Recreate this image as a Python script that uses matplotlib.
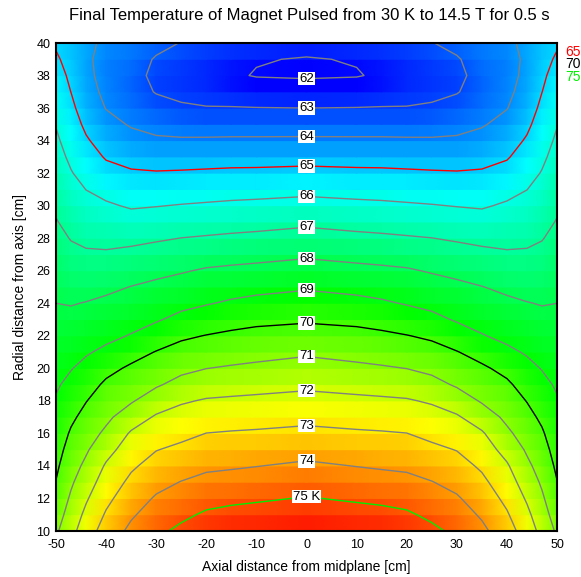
import numpy as np
import matplotlib
matplotlib.use("Agg")
import matplotlib.pyplot as plt
from matplotlib.colors import LinearSegmentedColormap

plt.rcParams["font.family"] = ["Liberation Sans", "DejaVu Sans"]
plt.rcParams["axes.unicode_minus"] = False

# radial nodes [cm] and axial nodes [cm] (half magnet, mirrored about midplane)
r_cm = np.arange(10, 41)
x_half = [0, 10, 15, 20, 25, 30, 35, 40, 44, 47, 50]

# final temperature [K] along r = 10..40 cm at each axial position
t_x0 = [75.95, 75.5, 75.05, 74.6, 74.15, 73.68, 73.22, 72.76, 72.3, 71.82,
        71.35, 70.87, 70.38, 69.89, 69.4, 68.9, 68.38, 67.87, 67.35, 66.83,
        66.3, 65.77, 65.24, 64.69, 64.14, 63.57, 63.0, 62.42, 61.9, 61.95, 62.3]
t_x10 = [75.8, 75.34, 74.89, 74.43, 73.98, 73.55, 73.11, 72.66, 72.19, 71.7,
         71.18, 70.71, 70.27, 69.79, 69.26, 68.74, 68.24, 67.73, 67.21, 66.7,
         66.2, 65.69, 65.18, 64.66, 64.13, 63.58, 63.02, 62.5, 61.95, 62.05, 62.45]
t_x15 = [75.72, 75.26, 74.81, 74.35, 73.9, 73.49, 73.07, 72.61, 72.14, 71.63,
         71.09, 70.62, 70.17, 69.66, 69.12, 68.64, 68.17, 67.67, 67.15, 66.65,
         66.15, 65.68, 65.16, 64.67, 64.13, 63.58, 63.04, 62.6, 62.12, 62.2, 62.6]
t_x20 = [75.56, 75.13, 74.69, 74.26, 73.83, 73.42, 73.01, 72.55, 72.08, 71.55,
         70.99, 70.51, 70.03, 69.48, 68.94, 68.52, 68.09, 67.6, 67.08, 66.59,
         66.1, 65.61, 65.13, 64.62, 64.11, 63.58, 63.04, 62.7, 62.45, 62.45, 62.75]
t_x25 = [75.2, 74.81, 74.42, 74.03, 73.61, 73.19, 72.77, 72.35, 71.9, 71.3,
         70.78, 70.33, 69.85, 69.25, 68.76, 68.35, 67.93, 67.47, 67.01, 66.53,
         66.04, 65.57, 65.09, 64.6, 64.1, 63.61, 63.11, 62.8, 62.65, 62.7, 62.97]
t_x30 = [74.8, 74.45, 74.1, 73.73, 73.35, 72.97, 72.54, 72.11, 71.5, 70.89,
         70.47, 70.04, 69.46, 68.91, 68.55, 68.19, 67.78, 67.34, 66.9, 66.43,
         65.97, 65.52, 65.06, 64.6, 64.13, 63.72, 63.33, 62.95, 62.8, 62.92, 63.25]
t_x35 = [74.22, 73.88, 73.55, 73.21, 72.86, 72.48, 72.11, 71.51, 70.91, 70.53,
         70.15, 69.64, 69.05, 68.69, 68.35, 68.02, 67.62, 67.21, 66.79, 66.35,
         65.91, 65.51, 65.1, 64.7, 64.3, 63.92, 63.6, 63.38, 63.3, 63.4, 63.55]
t_x40 = [73.42, 73.1, 72.77, 72.44, 72.11, 71.67, 71.18, 70.8, 70.48, 70.16,
         69.73, 69.18, 68.79, 68.48, 68.16, 67.83, 67.46, 67.1, 66.76, 66.44,
         66.11, 65.73, 65.31, 64.92, 64.6, 64.29, 63.97, 63.8, 63.72, 63.7, 63.78]
t_x44 = [72.53, 72.22, 71.89, 71.55, 71.2, 70.88, 70.58, 70.28, 69.97, 69.61,
         69.25, 68.91, 68.62, 68.32, 68.03, 67.72, 67.42, 67.11, 66.82, 66.54,
         66.26, 65.99, 65.69, 65.4, 65.1, 64.82, 64.55, 64.35, 64.2, 64.15, 64.25]
t_x47 = [71.7, 71.42, 71.14, 70.87, 70.62, 70.36, 70.11, 69.83, 69.54, 69.24,
         68.96, 68.71, 68.45, 68.2, 67.96, 67.7, 67.45, 67.2, 66.96, 66.73,
         66.5, 66.27, 66.05, 65.83, 65.62, 65.41, 65.2, 64.99, 64.85, 64.72, 64.6]
t_x50 = [70.85, 70.55, 70.3, 70.03, 69.83, 69.64, 69.45, 69.26, 69.08, 68.89,
         68.71, 68.54, 68.36, 68.18, 68.0, 67.81, 67.62, 67.43, 67.24, 67.05,
         66.86, 66.68, 66.5, 66.32, 66.14, 65.96, 65.74, 65.53, 65.32, 65.11, 64.9]

levels = list(range(62, 76))
special_colors = {65: "red", 70: "black", 75: "#00ee00"}

# mirror the half-magnet table about the midplane
t_half = np.column_stack([t_x0, t_x10, t_x15, t_x20, t_x25, t_x30, t_x35,
                          t_x40, t_x44, t_x47, t_x50])
x_full = np.concatenate([-np.array(x_half[::-1][:-1]), x_half])
t_full = np.concatenate([t_half[:, ::-1][:, :-1], t_half], axis=1)

cmap = LinearSegmentedColormap.from_list(
    "bcgyr", ["#0000ff", "#00ffff", "#00ff00", "#ffff00", "#ff0000"])

fig = plt.figure(figsize=(5.81, 5.77), dpi=100)
ax = fig.add_axes([56 / 581, 46 / 577, 501 / 581, 488 / 577])

# 1 cm radial bands, shaded along the axis
band_r = np.repeat(r_cm, 2)[1:-1]
band_t = np.repeat(t_full[1:], 2, axis=0)
ax.pcolormesh(x_full, band_r, band_t, shading="gouraud", cmap=cmap,
              vmin=61.9, vmax=75.9)

line_colors = [special_colors.get(lv, "#808080") for lv in levels]
ax.contour(x_full, r_cm, t_full, levels=levels, colors=line_colors,
           linewidths=1.0)

# labels on the midplane
r_rev = r_cm[:29][::-1]
t_rev = np.array(t_x0[:29])[::-1]
for lv in levels:
    r_lab = np.interp(lv, t_rev, r_rev)
    txt = "75 K" if lv == 75 else str(lv)
    ax.text(0, r_lab, txt, ha="center", va="center", fontsize=9.5,
            color="black", zorder=5,
            bbox=dict(facecolor="white", edgecolor="none", pad=0.6))

# colour key on the right
for i, lv in enumerate([65, 70, 75]):
    ax.text(1.016, 0.982 - i * 0.026, str(lv), transform=ax.transAxes,
            ha="left", va="center", fontsize=10, color=special_colors[lv])

ax.set_xlim(-50, 50)
ax.set_ylim(10, 40)
ax.set_xticks(range(-50, 51, 10))
ax.set_yticks(range(10, 41, 2))
ax.tick_params(length=0, labelsize=9)
ax.tick_params(axis="x", pad=6)
ax.tick_params(axis="y", pad=4)
for sp in ax.spines.values():
    sp.set_linewidth(1.5)

ax.set_xlabel("Axial distance from midplane [cm]", fontsize=10, labelpad=6)
ax.set_ylabel("Radial distance from axis [cm]", fontsize=10, labelpad=7)
fig.text(0.533, 0.974, "Final Temperature of Magnet Pulsed from 30 K to 14.5 T for 0.5 s",
         ha="center", va="center", fontsize=12)

fig.savefig("out.png", dpi=100)
